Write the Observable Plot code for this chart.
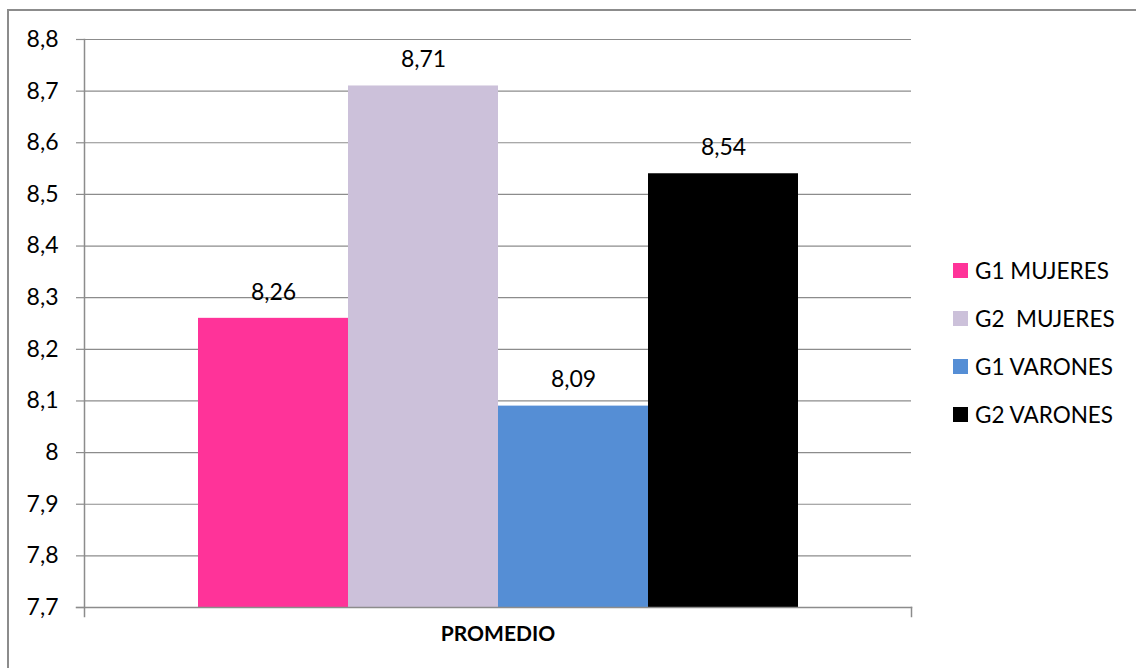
<!DOCTYPE html>
<html><head><meta charset="utf-8">
<script src="https://cdn.jsdelivr.net/npm/d3@7"></script>
<script src="https://cdn.jsdelivr.net/npm/@observablehq/plot@0.6"></script>
<style>
body{margin:0;background:#fff;font-family:Lato,"Open Sans",sans-serif;}
#wrap{position:relative;width:1136px;height:668px;overflow:hidden;background:#fff;}
#border{position:absolute;left:7px;top:9px;width:1300px;height:900px;border:2px solid #8c8c8c;box-sizing:border-box;}
#chart{position:absolute;left:0;top:0;}
#legend{position:absolute;left:953px;top:246px;font-size:22.5px;color:#000;}
.row{display:flex;align-items:center;height:48px;}
.sw{width:15px;height:15px;margin-right:7px;}
.lab{white-space:pre;}
</style>
</head><body>
<div id="wrap"><div id="border"></div><div id="chart"></div><div id="legend"></div></div>
<script>
const categories = ["G1 MUJERES", "G2  MUJERES", "G1 VARONES", "G2 VARONES"];
const values = [8.26, 8.71, 8.09, 8.54];
const colors = ["#FF3399", "#CCC1DA", "#558ED5", "#000000"];
const groupLabel = "PROMEDIO";
const yTicks = [7.7, 7.8, 7.9, 8.0, 8.1, 8.2, 8.3, 8.4, 8.5, 8.6, 8.7, 8.8];
const yMin = 7.7, yMax = 8.8;

const data = categories.map((c, i) => ({series: c, value: values[i]}));
const fmt = v => String(+v.toFixed(2)).replace(".", ",");
const gray = "#8c8c8c";

const chart = Plot.plot({
  width: 1136, height: 668,
  marginLeft: 84, marginRight: 225, marginTop: 39, marginBottom: 61,
  style: {fontFamily: "Lato, 'Open Sans', sans-serif", fontSize: "23px", color: "#000", background: "transparent", overflow: "visible"},
  x: {domain: categories, paddingInner: 0, paddingOuter: 0.752, axis: null},
  y: {domain: [yMin, yMax], label: null},
  color: {domain: categories, range: colors},
  marks: [
    Plot.gridY(yTicks, {stroke: gray, strokeOpacity: 1, strokeWidth: 1.2}),
    Plot.barY(data, {x: "series", y1: yMin, y2: "value", fill: "series", insetLeft: 0, insetRight: 0}),
    Plot.text(data, {x: "series", y: "value", text: d => fmt(d.value), dy: -26, fontSize: 23, fill: "#000"}),
    Plot.axisY({ticks: yTicks, tickFormat: fmt, tickSize: 8, tickPadding: 18, stroke: gray, strokeWidth: 1.2, fill: "#000", fontSize: 23, label: null}),
    Plot.frame({anchor: "left", stroke: gray, strokeWidth: 1.5, insetBottom: -9}),
    Plot.frame({anchor: "bottom", stroke: gray, strokeWidth: 1.5, insetLeft: -8}),
    Plot.frame({anchor: "right", stroke: gray, strokeWidth: 1.5, insetTop: 568, insetBottom: -9}),
    Plot.text([groupLabel], {frameAnchor: "bottom", dy: 33, fontWeight: "bold", fontSize: 21, fill: "#000"})
  ]
});
document.getElementById("chart").appendChild(chart);

const legend = document.getElementById("legend");
categories.forEach((c, i) => {
  const row = document.createElement("div");
  row.className = "row";
  row.innerHTML = `<div class="sw" style="background:${colors[i]}"></div><div class="lab"></div>`;
  row.querySelector(".lab").textContent = c;
  legend.appendChild(row);
});
</script>
</body></html>
